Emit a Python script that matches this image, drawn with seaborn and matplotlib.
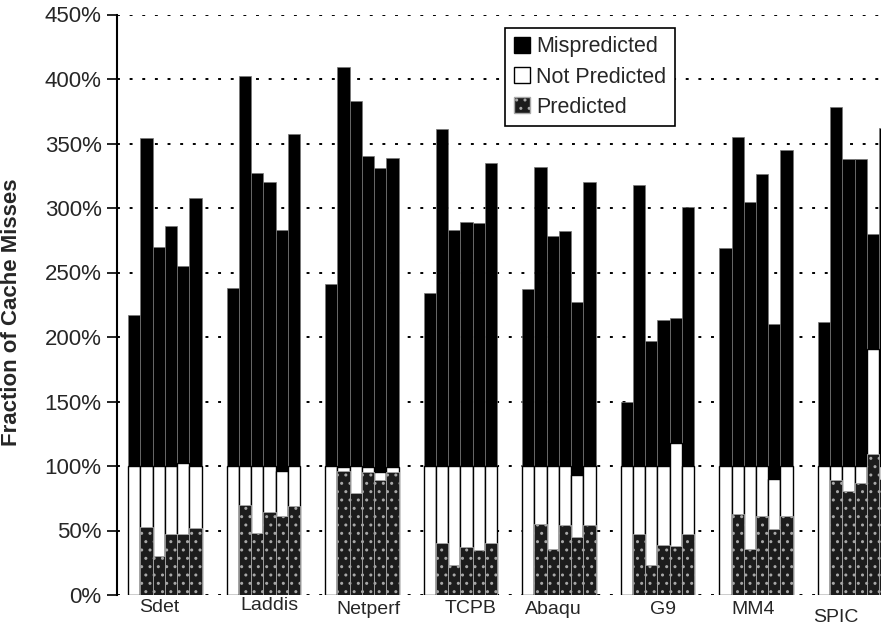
import pandas as pd
import seaborn as sns
import matplotlib.pyplot as plt
from matplotlib.patches import Patch

benchmarks = ['Sdet', 'Laddis', 'Netperf', 'TCPB', 'Abaqu', 'G9', 'MM4', 'SPIC']
runs = ['r1', 'r2', 'r3', 'r4', 'r5', 'r6']

# top of each stacked bar (%): predicted + not predicted + mispredicted
total_top = [
    [217, 354, 270, 286, 255, 308],
    [238, 402, 327, 320, 283, 357],
    [241, 409, 383, 340, 331, 339],
    [234, 361, 283, 289, 288, 335],
    [237, 332, 278, 282, 227, 320],
    [150, 318, 197, 213, 215, 301],
    [269, 355, 305, 326, 210, 345],
    [212, 378, 338, 338, 280, 362],
]
# top of the white "not predicted" part (%)
not_pred_top = [
    [100, 100, 100, 100, 102, 100],
    [100, 100, 100, 100, 96, 100],
    [100, 99, 100, 99, 95, 99],
    [100, 100, 100, 100, 100, 100],
    [100, 100, 100, 100, 93, 100],
    [100, 100, 100, 100, 118, 100],
    [100, 100, 100, 100, 90, 100],
    [100, 100, 100, 100, 191, 100],
]
# predicted part (%)
predicted = [
    [0, 53, 30, 47, 47, 52],
    [0, 70, 48, 64, 61, 69],
    [0, 96, 79, 95, 89, 95],
    [0, 40, 23, 37, 35, 40],
    [0, 55, 36, 54, 45, 54],
    [0, 47, 23, 39, 38, 47],
    [0, 63, 36, 61, 51, 61],
    [0, 89, 81, 87, 109, 90],
]

rows = []
for i, b in enumerate(benchmarks):
    for j, r in enumerate(runs):
        rows.append({'bench': b, 'run': r, 'total': total_top[i][j],
                     'white': not_pred_top[i][j], 'pred': predicted[i][j]})
df = pd.DataFrame(rows)

sns.set_style('white')
plt.rcParams['font.family'] = ['Liberation Sans', 'DejaVu Sans']
plt.rcParams['hatch.linewidth'] = 1.0

fig = plt.figure(figsize=(8.81, 6.27), dpi=100)
ax = fig.add_axes([117 / 881, 32 / 627, 764 / 881, 580.5 / 627])

common = dict(data=df, x='bench', hue='run', order=benchmarks, hue_order=runs,
              width=0.746, gap=0, dodge=True, saturation=1, legend=False,
              errorbar=None, ax=ax)
# layered: black total, white up to not-predicted top, hatched predicted
sns.barplot(y='total', palette=['black'] * 6, edgecolor='#777777', linewidth=0.5, **common)
sns.barplot(y='white', palette=['white'] * 6, edgecolor='black', linewidth=1.0, **common)
sns.barplot(y='pred', palette=['#1c1c1c'] * 6, edgecolor='#a8a8a8', hatch='..',
            linewidth=0.6, **common)

ax.set_xlim(-0.487, 7.269)
ax.set_ylim(0, 450)
ax.set_yticks(range(0, 451, 50))
ax.set_yticklabels([f'{v}%' for v in range(0, 451, 50)])
ax.yaxis.grid(True, color='black', linestyle=(0, (1.5, 5)), linewidth=1.4)
ax.xaxis.grid(False)
ax.set_axisbelow(True)

for s in ['top', 'right', 'bottom']:
    ax.spines[s].set_visible(False)
ax.spines['left'].set_color('black')
ax.spines['left'].set_linewidth(1.5)

ax.tick_params(axis='y', direction='out', length=7, width=1.2, color='black',
               labelsize=16, pad=4, left=True)
ax.tick_params(axis='x', length=0, labelbottom=False)
ax.set_xlabel('')
ax.set_ylabel('Fraction of Cache Misses', fontsize=16, fontweight='bold')
ax.yaxis.set_label_coords(-0.124, 0.4875)

# group labels sit a bit off-centre in the original
label_dx = [-0.06, 0.06, 0.07, 0.10, -0.055, 0.06, -0.025, -0.19]
label_y = [608, 605, 610, 608.5, 610, 610, 610, 617.5]
for i, b in enumerate(benchmarks):
    ax.text(i + label_dx[i], 1 - (label_y[i] - 14.5) / 580.5, b,
            transform=ax.get_xaxis_transform(), ha='center', va='center',
            fontsize=14, clip_on=False)

handles = [
    Patch(facecolor='black', edgecolor='black', label='Mispredicted'),
    Patch(facecolor='white', edgecolor='black', label='Not Predicted'),
    Patch(facecolor='#1c1c1c', edgecolor='#a8a8a8', hatch='..', label='Predicted'),
]
leg = ax.legend(handles=handles, loc='upper left', bbox_to_anchor=(0.508, 0.977),
                frameon=True, fancybox=False, edgecolor='black', framealpha=1,
                fontsize=15.5, handlelength=0.75, handleheight=0.75, handletextpad=0.3,
                labelspacing=0.42, borderpad=0.4, borderaxespad=0)
leg.get_frame().set_linewidth(1.2)

fig.savefig('out.png', dpi=100)
